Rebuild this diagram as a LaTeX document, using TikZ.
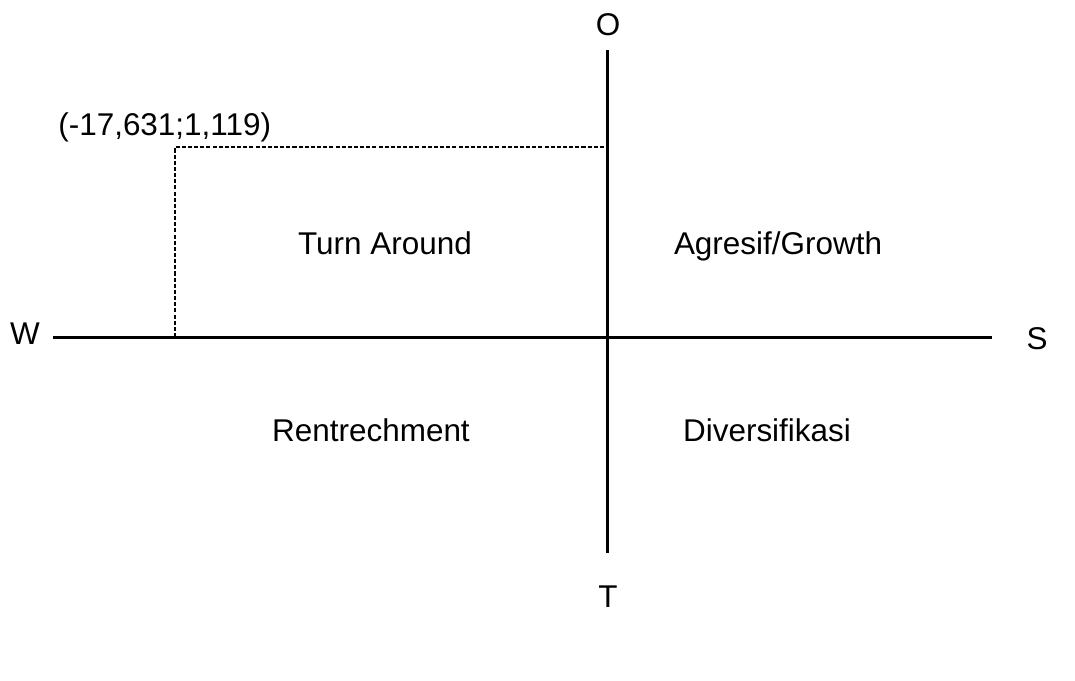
\documentclass[tikz,border=0pt]{standalone}
\usepackage{fontspec}
\setmainfont{Liberation Sans}
\usetikzlibrary{positioning}

\begin{document}
\begin{tikzpicture}[
  x=0.02cm, y=-0.02cm,
  font=\fontsize{17.9}{21}\selectfont,
  lbl/.style={inner sep=0pt, anchor=base},
  axis/.style={line width=1.7pt},
  guide/.style={line width=0.6pt, dash pattern=on 2.3pt off 1.2pt},
]
\useasboundingbox (0,0) rectangle (1075,680);

% axis labels
\node[lbl] (O) at (608,35) {O};
\node[lbl] (T) at (608,607) {T};
\node[lbl] (W) at (25,344) {W};
\node[lbl] (S) at (1037,349) {S};

% axis end points
\coordinate (top) at (607,50);
\coordinate (bot) at (607,553);
\coordinate (left) at (53,337);
\coordinate (right) at (992,337);

\draw[axis] (left) -- (right);
\draw[axis] (top) -- (bot);

% position of the point
\coordinate (pt) at (175,147);
\coordinate (ptx) at (175,337);
\coordinate (pty) at (607,147);
\node[lbl, anchor=base west] (val) at (58,135) {(-17,631;1,119)};
\draw[guide] (ptx) -- (pt) -- (pty);

% quadrants
\node[lbl] (turn) at (385,254) {Turn Around};
\node[lbl] (grow) at (778,254) {Agresif/Growth};
\node[lbl] (retr) at (371,441) {Rentrechment};
\node[lbl] (div) at (767,441) {Diversifikasi};

\end{tikzpicture}
\end{document}
